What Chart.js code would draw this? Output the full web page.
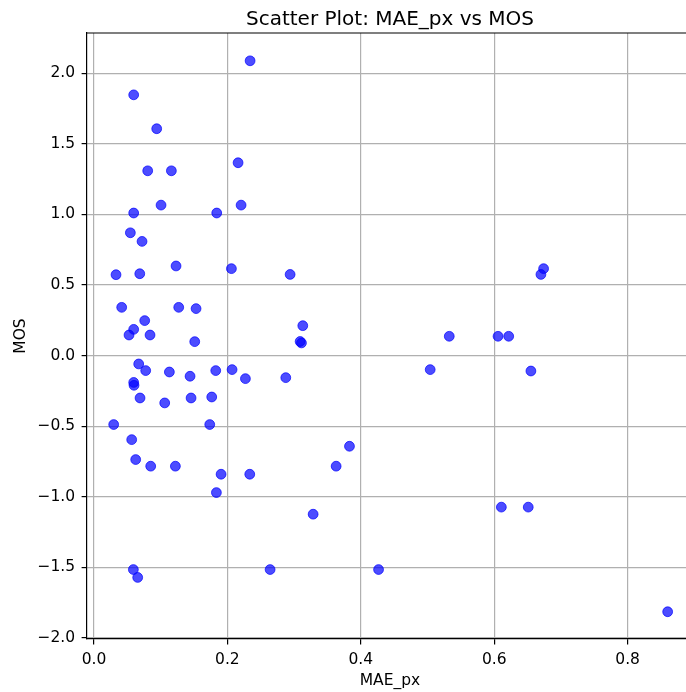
<!DOCTYPE html>
<html>
<head>
<meta charset="utf-8">
<script src="https://cdn.jsdelivr.net/npm/chart.js@4"></script>
<style>
  html, body { margin: 0; padding: 0; background: #fff; overflow: hidden; }
  #chart { display: block; }
</style>
</head>
<body>
<canvas id="chart" width="700" height="692"></canvas>
<script>
// MAE_px (x) and MOS (y)
const maePx = [
  0.234, 0.0595, 0.094, 0.0805, 0.116, 0.216, 0.1005, 0.0595, 0.184, 0.2205,
  0.0545, 0.072, 0.123, 0.206, 0.033, 0.0686, 0.294, 0.0415, 0.127, 0.153,
  0.076, 0.0595, 0.0525, 0.084, 0.151, 0.313, 0.309, 0.311, 0.067, 0.0775,
  0.113, 0.144, 0.1825, 0.207, 0.227, 0.2875, 0.0595, 0.060, 0.069, 0.106,
  0.1455, 0.1765, 0.0295, 0.1735, 0.0565, 0.0625, 0.085, 0.122, 0.1905, 0.2335,
  0.1835, 0.059, 0.0655, 0.264, 0.4266, 0.363, 0.383, 0.3285, 0.674, 0.670,
  0.5326, 0.6057, 0.6217, 0.504, 0.655, 0.6107, 0.651, 0.860
];
const mos = [
  2.088, 1.847, 1.607, 1.309, 1.309, 1.366, 1.066, 1.010, 1.010, 1.066,
  0.870, 0.809, 0.635, 0.616, 0.573, 0.580, 0.575, 0.342, 0.342, 0.333,
  0.248, 0.186, 0.146, 0.146, 0.099, 0.212, 0.100, 0.090, -0.059, -0.106,
  -0.116, -0.146, -0.106, -0.099, -0.163, -0.156, -0.190, -0.210, -0.300, -0.335,
  -0.300, -0.293, -0.488, -0.488, -0.595, -0.736, -0.783, -0.783, -0.840, -0.840,
  -0.970, -1.515, -1.571, -1.515, -1.515, -0.783, -0.642, -1.123, 0.616, 0.575,
  0.137, 0.137, 0.137, -0.099, -0.109, -1.073, -1.073, -1.814
];
const xTicks = [0.0, 0.2, 0.4, 0.6, 0.8];
const yTicks = [-2.0, -1.5, -1.0, -0.5, 0.0, 0.5, 1.0, 1.5, 2.0];

const FONT = "'DejaVu Sans', sans-serif";

// matplotlib style tick text, with a real minus sign
function fmt(v) {
  const s = Math.abs(v).toFixed(1);
  return v < 0 ? "\u2212" + s : s;
}

// title + top/right spines like matplotlib
const framePlugin = {
  id: "frame",
  afterDraw(chart) {
    const { ctx, chartArea: a } = chart;
    ctx.save();
    ctx.strokeStyle = "#000";
    ctx.lineWidth = 1.1;
    ctx.beginPath();
    ctx.moveTo(a.left, a.top);
    ctx.lineTo(a.right, a.top);
    ctx.lineTo(a.right, a.bottom);
    ctx.stroke();
    ctx.fillStyle = "#000";
    ctx.font = "20px " + FONT;
    ctx.textAlign = "center";
    ctx.textBaseline = "alphabetic";
    ctx.fillText("Scatter Plot: MAE_px vs MOS", (a.left + a.right) / 2, 24.5);
    ctx.restore();
  },
};

const points = maePx.map((x, i) => ({ x: x, y: mos[i] }));

new Chart(document.getElementById("chart"), {
  type: "scatter",
  data: {
    datasets: [
      {
        data: points,
        backgroundColor: "rgba(0,0,255,0.7)",
        borderColor: "rgba(0,0,255,0.7)",
        borderWidth: 1,
        pointRadius: 4.9,
        pointHoverRadius: 4.9,
      },
    ],
  },
  options: {
    responsive: false,
    animation: false,
    events: [],
    layout: { padding: { left: 0, right: 7, top: 33, bottom: 0 } },
    plugins: {
      legend: { display: false },
      tooltip: { enabled: false },
    },
    scales: {
      x: {
        type: "linear",
        min: -0.0105,
        max: 0.898,
        afterBuildTicks: (s) => { s.ticks = xTicks.map((v) => ({ value: v })); },
        afterFit: (s) => { s.height = 53; },
        grid: { color: "#b0b0b0", lineWidth: 1.2, tickColor: "#000", tickLength: 5.4 },
        border: { display: true, color: "#000", width: 1.2 },
        ticks: {
          color: "#000",
          font: { family: FONT, size: 15.5 },
          padding: 6,
          maxRotation: 0,
          callback: (v) => fmt(v),
        },
        title: {
          display: true,
          text: "MAE_px",
          color: "#000",
          font: { family: FONT, size: 15.5 },
          padding: { top: 0, bottom: 2 },
        },
      },
      y: {
        type: "linear",
        min: -2.007,
        max: 2.285,
        afterBuildTicks: (s) => { s.ticks = yTicks.map((v) => ({ value: v })); },
        afterFit: (s) => { s.width = 87; },
        grid: { color: "#b0b0b0", lineWidth: 1.2, tickColor: "#000", tickLength: 5.4 },
        border: { display: true, color: "#000", width: 1.2 },
        ticks: {
          color: "#000",
          font: { family: FONT, size: 15.5 },
          padding: 6.5,
          callback: (v) => fmt(v),
        },
        title: {
          display: true,
          text: "MOS",
          color: "#000",
          font: { family: FONT, size: 15.5 },
          padding: { top: 11.5, bottom: 0 },
        },
      },
    },
  },
  plugins: [framePlugin],
});
</script>
</body>
</html>
